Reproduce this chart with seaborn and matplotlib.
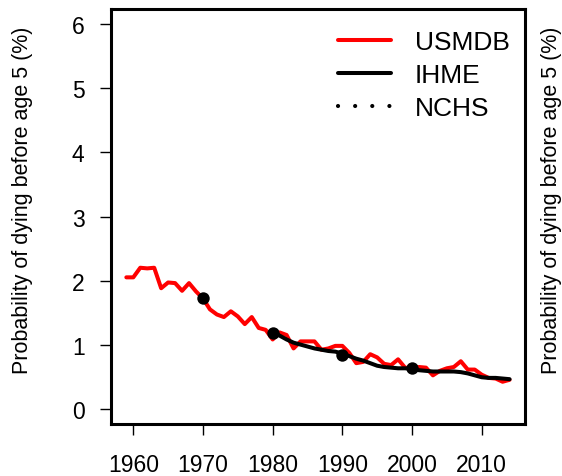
import pandas as pd
import matplotlib
matplotlib.use('Agg')
import matplotlib.pyplot as plt
import seaborn as sns
from matplotlib.lines import Line2D

# данные
years_usmdb = list(range(1959, 2015))
usmdb = [2.05, 2.05, 2.20, 2.19, 2.20, 1.88, 1.97, 1.96, 1.84, 1.96, 1.83,
         1.72, 1.55, 1.47, 1.43, 1.52, 1.44, 1.32, 1.43, 1.26, 1.23,
         1.08, 1.19, 1.15, 0.94, 1.05, 1.05, 1.05, 0.92, 0.94, 0.98,
         0.98, 0.87, 0.71, 0.73, 0.85, 0.80, 0.70, 0.68, 0.77, 0.64,
         0.63, 0.65, 0.64, 0.52, 0.59, 0.63, 0.65, 0.74, 0.61, 0.61,
         0.53, 0.48, 0.47, 0.42, 0.45]

years_ihme = list(range(1980, 2015))
ihme = [1.20, 1.14, 1.08, 1.03, 1.00, 0.97, 0.94, 0.92, 0.90, 0.89,
        0.86, 0.82, 0.78, 0.75, 0.71, 0.67, 0.65, 0.64, 0.63, 0.63,
        0.62, 0.60, 0.59, 0.58, 0.58, 0.58, 0.58, 0.57, 0.55, 0.52,
        0.49, 0.48, 0.48, 0.47, 0.46]

years_nchs = [1970, 1980, 1990, 2000]
nchs = [1.72, 1.18, 0.84, 0.64]

ylab = 'Probability of dying before age 5 (%)'

df_usmdb = pd.DataFrame({'year': years_usmdb, 'value': usmdb})
df_ihme = pd.DataFrame({'year': years_ihme, 'value': ihme})
df_nchs = pd.DataFrame({'year': years_nchs, 'value': nchs})

sns.set_style('ticks')
plt.rcParams['font.family'] = ['Liberation Sans', 'DejaVu Sans']
plt.rcParams['text.color'] = 'black'

fig = plt.figure(figsize=(5.62, 4.77), dpi=100)
ax = fig.add_axes([0.1975, 0.109, 0.7365, 0.870])

sns.lineplot(x='year', y='value', data=df_usmdb, color='#ff0000', linewidth=2.9, ax=ax, zorder=2)
sns.lineplot(x='year', y='value', data=df_ihme, color='black', linewidth=2.9, ax=ax, zorder=3)
sns.scatterplot(x='year', y='value', data=df_nchs, color='black', s=80, edgecolor='black', linewidth=0, ax=ax, zorder=4)

ax.set_xlim(1956.8, 2016.2)
ax.set_ylim(-0.24, 6.24)
ax.set_xticks([1960, 1970, 1980, 1990, 2000, 2010])
ax.set_yticks([0, 1, 2, 3, 4, 5, 6])
ax.set_xlabel('')
ax.set_ylabel('')
ax.tick_params(axis='both', labelsize=16.5, length=8, width=1, color='black', labelcolor='black')
ax.tick_params(axis='x', pad=13)
ax.tick_params(axis='y', pad=11)
for sp in ax.spines.values():
    sp.set_visible(True)
    sp.set_linewidth(2.2)
    sp.set_color('black')

# подписи оси Y слева и справа
yc = 1 - 200 / 477
fig.text(23 / 562, yc, ylab, rotation=90, ha='center', va='center', fontsize=15.5, color='black')
fig.text(551 / 562, yc, ylab, rotation=90, ha='center', va='center', fontsize=15.5, color='black')

handles = [Line2D([], [], color='#ff0000', lw=2.9),
           Line2D([], [], color='black', lw=2.9),
           Line2D([], [], color='black', lw=3.0, linestyle=(0, (0.01, 4.1)), dash_capstyle='round')]
leg = ax.legend(handles, ['USMDB', 'IHME', 'NCHS'], loc='upper left',
                bbox_to_anchor=(338 / 562, 1 - 31 / 477), bbox_transform=fig.transFigure,
                frameon=False, fontsize=19, handlelength=2.0, handletextpad=0.9,
                labelspacing=0.34, borderpad=0, borderaxespad=0)
for t in leg.get_texts():
    t.set_color('black')

fig.savefig('out.png', dpi=100)
